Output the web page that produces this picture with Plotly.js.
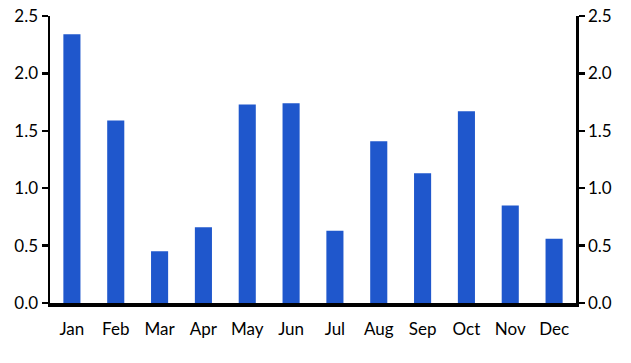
<!DOCTYPE html>
<html><head><meta charset="utf-8">
<script src="https://cdn.plot.ly/plotly-3.0.1.min.js"></script>
<style>html,body{margin:0;padding:0;background:#fff}#c{width:631px;height:363px}</style>
</head><body><div id="c"></div>
<script>
const months = ["Jan","Feb","Mar","Apr","May","Jun","Jul","Aug","Sep","Oct","Nov","Dec"];
const values = [2.34,1.59,0.45,0.66,1.73,1.74,0.63,1.41,1.13,1.67,0.85,0.56];
const yTicks = [0,0.5,1,1.5,2,2.5];
const yTickLabels = ["0.0","0.5","1.0","1.5","2.0","2.5"];

const axisY = {
  range:[0,2.5], tickvals:yTicks, ticktext:yTickLabels, ticks:'outside', ticklen:6, tickwidth:2.5,
  tickcolor:'#000', showline:true, linecolor:'#000', linewidth:2.5, showgrid:false, zeroline:false,
  tickfont:{size:17,color:'#000'}, fixedrange:true
};
const data = [
  {type:'bar', x:months, y:values, marker:{color:'#1f57cc'}, hoverinfo:'skip'},
  {type:'scatter', x:months, y:values, yaxis:'y2', mode:'none', showlegend:false, hoverinfo:'skip'}
];
const layout = {
  width:631, height:363, margin:{l:50,r:55,t:16,b:60},
  paper_bgcolor:'#fff', plot_bgcolor:'#fff', showlegend:false, bargap:0.61,
  font:{family:'Lato, "Open Sans", sans-serif', color:'#000'},
  xaxis:{showline:true, linecolor:'#000', linewidth:3.5, ticks:'', showgrid:false, zeroline:false,
    tickfont:{size:17,color:'#000'}, ticklabelstandoff:8},
  yaxis:Object.assign({}, axisY, {side:'left'}),
  yaxis2:Object.assign({}, axisY, {side:'right', overlaying:'y', anchor:'x'})
};
Plotly.newPlot('c', data, layout, {staticPlot:true, displayModeBar:false});
</script></body></html>
